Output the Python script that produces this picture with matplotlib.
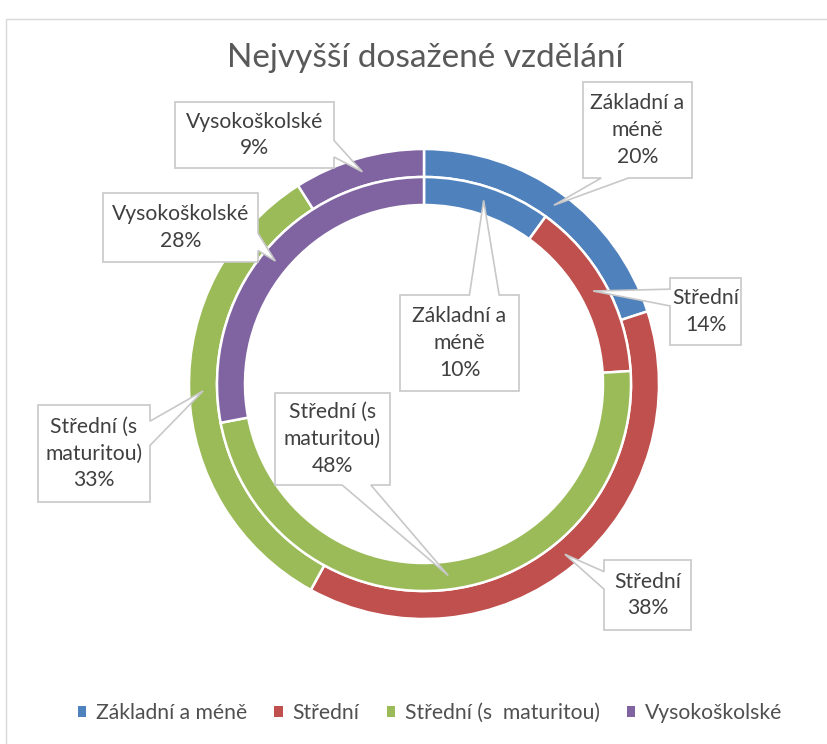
import textwrap
import numpy as np
import matplotlib.pyplot as plt
from matplotlib.patches import Polygon, Rectangle, Patch

# data
categories = ["Základní a méně", "Střední", "Střední (s  maturitou)", "Vysokoškolské"]
outer_values = [20, 38, 33, 9]
inner_values = [10, 14, 48, 28]
colors = ["#4F81BD", "#C0504D", "#9BBB59", "#8064A2"]

W, H = 827, 744
CX, CY = 424, 384          # ring centre in pixels (from top)
R_OUT, RING = 235, 28

# label boxes (left, top, right, bottom) in pixels, outer ring then inner ring
outer_boxes = [(583, 82, 692, 178), (604, 560, 691, 630),
               (38, 405, 150, 502), (175, 102, 334, 168)]
inner_boxes = [(400, 295, 519, 391), (670, 278, 741, 345),
               (275, 393, 390, 485), (103, 193, 258, 262)]

plt.rcParams["font.family"] = ["Lato", "DejaVu Sans"]

fig = plt.figure(figsize=(W / 100, H / 100), dpi=100)
ax = fig.add_axes([0, 0, 1, 1])


def fy(y):
    return H - y


wedge_kw = dict(width=RING, edgecolor="white", linewidth=1.8)
ax.pie(outer_values, radius=R_OUT, center=(CX, fy(CY)), startangle=90,
       counterclock=False, colors=colors, wedgeprops=wedge_kw)
ax.pie(inner_values, radius=R_OUT - RING, center=(CX, fy(CY)), startangle=90,
       counterclock=False, colors=colors, wedgeprops=wedge_kw)
ax.set_xlim(0, W)
ax.set_ylim(0, H)
ax.set_aspect("equal")
ax.axis("off")


def callout(l, t, r, b, tip):
    # Excel-style wedge rectangle callout, screen coords (y down)
    w, h = r - l, b - t
    dx, dy = tip[0] - (l + r) / 2, tip[1] - (t + b) / 2
    x1 = l + w * (7 if dx > 0 else 2) / 12
    x2 = l + w * (10 if dx > 0 else 5) / 12
    y1 = t + h * (7 if dy > 0 else 2) / 12
    y2 = t + h * (10 if dy > 0 else 5) / 12
    vert = abs(dy) * w > abs(dx) * h
    pts = [(l, t)]
    if vert and dy < 0:
        pts += [(x1, t), tip, (x2, t)]
    pts.append((r, t))
    if not vert and dx > 0:
        pts += [(r, y1), tip, (r, y2)]
    pts.append((r, b))
    if vert and dy > 0:
        pts += [(x2, b), tip, (x1, b)]
    pts.append((l, b))
    if not vert and dx < 0:
        pts += [(l, y2), tip, (l, y1)]
    return [(x, fy(y)) for x, y in pts]


def label_ring(values, boxes, r_mid):
    cum = np.cumsum([0] + values) / sum(values) * 360
    for i, v in enumerate(values):
        ang = np.radians((cum[i] + cum[i + 1]) / 2)
        tip = (CX + r_mid * np.sin(ang), CY - r_mid * np.cos(ang))
        l, t, r, b = boxes[i]
        ax.add_patch(Polygon(callout(l, t, r, b, tip), closed=True,
                             facecolor="white", edgecolor="#C8C8C8",
                             linewidth=1.2, zorder=5))
        name = "\n".join(textwrap.wrap(categories[i], width=10,
                                       break_long_words=False))
        ax.text((l + r) / 2, fy((t + b) / 2), f"{name}\n{v}%",
                ha="center", va="center", fontsize=15.2, color="#404040",
                linespacing=1.42, zorder=6)


label_ring(outer_values, outer_boxes, R_OUT - RING / 2)
label_ring(inner_values, inner_boxes, R_OUT - RING * 1.5)

fig.text(0.514, fy(58) / H, "Nejvyšší dosažené vzdělání", ha="center",
         va="center", fontsize=24, color="#595959")

handles = [Patch(facecolor=c, edgecolor="none") for c in colors]
fig.legend(handles, categories, loc="center", bbox_to_anchor=(0.52, 31 / H),
           ncol=4, frameon=False, fontsize=15.2, labelcolor="#505050",
           handlelength=0.4, handleheight=0.4, handletextpad=0.45,
           columnspacing=1.3)

fig.add_artist(Rectangle((6 / W, -0.01), 1.02, fy(19) / H + 0.01,
                         transform=fig.transFigure, fill=False,
                         edgecolor="#D9D9D9", linewidth=1))

fig.savefig("out.png", dpi=100)
